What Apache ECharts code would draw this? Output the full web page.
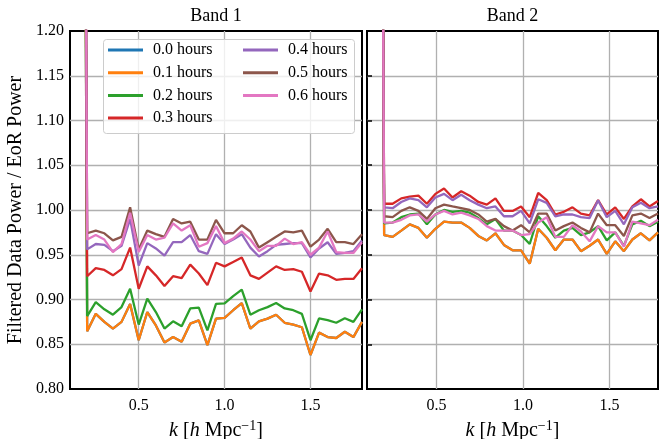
<!DOCTYPE html>
<html><head><meta charset="utf-8">
<script src="https://cdn.jsdelivr.net/npm/echarts@6/dist/echarts.min.js"></script>
<style>html,body{margin:0;padding:0;background:#fff}#c{width:660px;height:439px}</style>
</head><body><div id="c"></div>
<script>
const hours = ['0.0 hours','0.1 hours','0.2 hours','0.3 hours','0.4 hours','0.5 hours','0.6 hours'];
const colors = ['#1f77b4','#ff7f0e','#2ca02c','#d62728','#9467bd','#8c564b','#e377c2'];
const panelTitles = ['Band 1','Band 2'];
const xTicks = [0.5, 1.0, 1.5];

// k values (h Mpc^-1)
const k1 = [0.10,0.15,0.20,0.25,0.30,0.35,0.40,0.45,0.50,0.55,0.60,0.65,0.70,0.75,0.80,0.85,0.90,0.95,1.00,1.05,1.10,1.15,1.20,1.25,1.30,1.35,1.40,1.45,1.50,1.55,1.60,1.65,1.70,1.75,1.80];
const k2 = [0.099,0.148,0.198,0.247,0.297,0.346,0.396,0.445,0.494,0.544,0.593,0.643,0.692,0.742,0.791,0.841,0.890,0.940,0.989,1.039,1.088,1.137,1.187,1.236,1.286,1.335,1.385,1.434,1.484,1.533,1.583,1.632,1.681,1.731,1.780];

// Band 1 ratios
const b1_h00 = [5.0,3.0,0.8645,0.884,0.875,0.8675,0.875,0.895,0.8545,0.886,0.871,0.852,0.858,0.8527,0.873,0.8767,0.849,0.8786,0.8795,0.888,0.896,0.8675,0.8756,0.8786,0.883,0.874,0.872,0.869,0.838,0.863,0.858,0.857,0.864,0.858,0.875];
const b1_h01 = [5.0,3.0,0.8645,0.884,0.875,0.8675,0.875,0.895,0.8545,0.886,0.871,0.852,0.858,0.8527,0.873,0.8767,0.849,0.8786,0.8795,0.888,0.896,0.8675,0.8756,0.8786,0.883,0.874,0.872,0.869,0.838,0.863,0.858,0.857,0.864,0.858,0.875];
const b1_h02 = [5.0,3.0,0.8815,0.897,0.889,0.883,0.8915,0.912,0.872,0.901,0.886,0.8675,0.8756,0.870,0.890,0.891,0.8656,0.895,0.8956,0.9037,0.911,0.883,0.888,0.8915,0.896,0.890,0.888,0.884,0.8545,0.879,0.877,0.874,0.879,0.875,0.889];
const b1_h03 = [5.0,3.0,0.926,0.935,0.933,0.927,0.934,0.958,0.912,0.937,0.927,0.915,0.926,0.924,0.939,0.929,0.916,0.941,0.937,0.942,0.947,0.927,0.923,0.930,0.937,0.933,0.934,0.931,0.909,0.929,0.927,0.922,0.923,0.923,0.935];
const b1_h04 = [5.0,3.0,0.956,0.962,0.961,0.954,0.960,0.990,0.938,0.963,0.957,0.949,0.964,0.964,0.972,0.954,0.951,0.973,0.962,0.967,0.973,0.958,0.948,0.954,0.961,0.962,0.963,0.963,0.947,0.957,0.964,0.951,0.952,0.954,0.966];
const b1_h05 = [5.0,3.0,0.974,0.977,0.974,0.966,0.970,1.003,0.956,0.977,0.973,0.970,0.990,0.985,0.987,0.967,0.967,0.989,0.974,0.974,0.983,0.976,0.958,0.964,0.970,0.976,0.975,0.977,0.959,0.967,0.979,0.964,0.964,0.962,0.973];
const b1_h06 = [5.0,3.0,0.967,0.972,0.967,0.953,0.962,0.997,0.953,0.972,0.967,0.969,0.985,0.977,0.983,0.959,0.963,0.982,0.963,0.968,0.976,0.967,0.954,0.960,0.960,0.968,0.962,0.964,0.950,0.958,0.976,0.953,0.952,0.952,0.964];

// Band 2 ratios
const b2_h00 = [5.0,3.0,0.972,0.970,0.977,0.984,0.980,0.969,0.979,0.987,0.986,0.986,0.980,0.971,0.966,0.974,0.961,0.955,0.955,0.940,0.979,0.969,0.955,0.967,0.967,0.954,0.960,0.967,0.951,0.965,0.954,0.967,0.974,0.966,0.975];
const b2_h01 = [5.0,3.0,0.972,0.970,0.977,0.984,0.980,0.969,0.979,0.987,0.986,0.986,0.980,0.971,0.966,0.974,0.961,0.955,0.955,0.940,0.979,0.969,0.955,0.967,0.967,0.954,0.960,0.967,0.951,0.965,0.954,0.967,0.974,0.966,0.975];
const b2_h02 = [5.0,3.0,0.985,0.986,0.992,0.995,0.996,0.984,0.995,1.000,0.998,0.999,0.997,0.991,0.984,0.990,0.977,0.977,0.972,0.962,0.993,0.982,0.969,0.977,0.980,0.972,0.975,0.982,0.966,0.975,0.960,0.984,0.988,0.982,0.987];
const b2_h03 = [5.0,3.0,1.007,1.007,1.013,1.015,1.016,1.007,1.018,1.024,1.014,1.021,1.016,1.009,1.006,1.013,0.999,0.999,1.004,0.992,1.019,1.011,0.995,0.998,1.003,0.996,0.994,1.011,0.995,1.003,0.990,1.004,1.012,1.004,1.010];
const b2_h04 = [5.0,3.0,1.003,1.002,1.009,1.013,1.011,1.003,1.014,1.018,1.011,1.017,1.011,1.006,1.002,1.004,0.993,0.993,0.999,0.985,1.012,1.008,0.993,0.995,0.995,0.992,0.991,1.011,0.992,0.999,0.984,1.003,1.008,1.002,1.004];
const b2_h05 = [5.0,3.0,0.993,0.992,0.999,1.003,0.999,0.990,1.002,1.006,1.004,1.002,1.000,0.995,0.987,0.990,0.982,0.977,0.983,0.975,0.996,0.996,0.977,0.982,0.986,0.980,0.975,0.996,0.983,0.983,0.971,0.994,0.996,0.991,0.996];
const b2_h06 = [5.0,3.0,0.986,0.986,0.989,0.994,0.995,0.987,0.995,0.999,0.995,0.997,0.994,0.990,0.982,0.977,0.977,0.977,0.972,0.973,0.986,0.992,0.970,0.970,0.983,0.976,0.965,0.982,0.975,0.975,0.959,0.987,0.985,0.983,0.989];

const band1 = [b1_h00,b1_h01,b1_h02,b1_h03,b1_h04,b1_h05,b1_h06];
const band2 = [b2_h00,b2_h01,b2_h02,b2_h03,b2_h04,b2_h05,b2_h06];

const FONT = 'Liberation Serif';
const grids = [
  {left:70, top:31, width:292, height:358, show:true, borderColor:'#000', borderWidth:2, backgroundColor:'rgba(0,0,0,0)', outerBoundsMode:'none', containLabel:false},
  {left:367, top:31, width:291, height:358, show:true, borderColor:'#000', borderWidth:2, backgroundColor:'rgba(0,0,0,0)', outerBoundsMode:'none', containLabel:false}
];
const gridLine = {show:true, lineStyle:{color:'#b0b0b0', width:1.3}};
const xName = '{i|k} [{i|h} Mpc{s|\u22121}]';
const xNameStyle = {fontSize:20, fontFamily:FONT, color:'#000',
  rich:{i:{fontStyle:'italic', fontSize:20, fontFamily:FONT, color:'#000'},
        s:{fontSize:14, fontFamily:FONT, color:'#000', verticalAlign:'bottom', padding:[0,0,9,0]}}};

function xAxisFor(gi, kArr){
  return {gridIndex:gi, type:'value', min:kArr[0], max:kArr[kArr.length-1],
    axisLine:{show:false},
    axisTick:{show:false, customValues:xTicks},
    axisLabel:{customValues:xTicks, formatter:v=>v.toFixed(1), color:'#000', fontSize:16, fontFamily:FONT, margin:9},
    splitLine:gridLine,
    name:xName, nameLocation:'middle', nameGap:18, nameTextStyle:xNameStyle};
}
function yAxisFor(gi){
  return {gridIndex:gi, type:'value', min:0.8, max:1.2, interval:0.05,
    axisLine:{show:false},
    axisTick:{show:gi===1, inside:true, length:5, lineStyle:{color:'#000', width:1.5}},
    axisLabel:{show:gi===0, formatter:v=>v.toFixed(2), color:'#000', fontSize:16, fontFamily:FONT, margin:6},
    splitLine:Object.assign({showMinLine:false, showMaxLine:false}, gridLine),
    name: gi===0 ? 'Filtered Data Power / EoR Power' : '',
    nameLocation:'middle', nameGap:44, nameRotate:90,
    nameTextStyle:{fontSize:20, fontFamily:FONT, color:'#000'}};
}

const series = [];
[[band1,k1,0],[band2,k2,1]].forEach(([band,kArr,gi])=>{
  band.forEach((vals,h)=>{
    series.push({type:'line', name:hours[h], xAxisIndex:gi, yAxisIndex:gi,
      data:kArr.map((x,i)=>[x, vals[i]]), showSymbol:false, symbol:'none', clip:true,
      lineStyle:{width:2.3, color:colors[h]}, itemStyle:{color:colors[h]}, z:2+h*0.01, animation:false});
  });
});

const legendCommon = {orient:'vertical', icon:'rect', itemWidth:35, itemHeight:3, itemGap:6.7,
  selectedMode:false, z:5,
  textStyle:{fontSize:16, fontFamily:FONT, color:'#000', lineHeight:16, padding:[0,0,0,5]}};

const option = {
  animation:false,
  color:colors,
  grid:grids,
  title:[
    {text:panelTitles[0], left:216, top:7, textAlign:'center', padding:0, textStyle:{fontSize:18, fontWeight:'normal', fontFamily:FONT, color:'#000'}},
    {text:panelTitles[1], left:512.5, top:7, textAlign:'center', padding:0, textStyle:{fontSize:18, fontWeight:'normal', fontFamily:FONT, color:'#000'}}
  ],
  xAxis:[xAxisFor(0,k1), xAxisFor(1,k2)],
  yAxis:[yAxisFor(0), yAxisFor(1)],
  legend:[
    Object.assign({left:108, top:42, padding:0, data:hours.slice(0,4)}, legendCommon),
    Object.assign({left:243, top:42, padding:0, data:hours.slice(4)}, legendCommon)
  ],
  graphic:[{type:'rect', left:103, top:39, z:4, shape:{width:251, height:94, r:3},
    style:{fill:'rgba(255,255,255,0.8)', stroke:'#cccccc', lineWidth:1}}],
  series:series
};
const chart = echarts.init(document.getElementById('c'), null, {renderer:'canvas'});
chart.setOption(option);
</script></body></html>
